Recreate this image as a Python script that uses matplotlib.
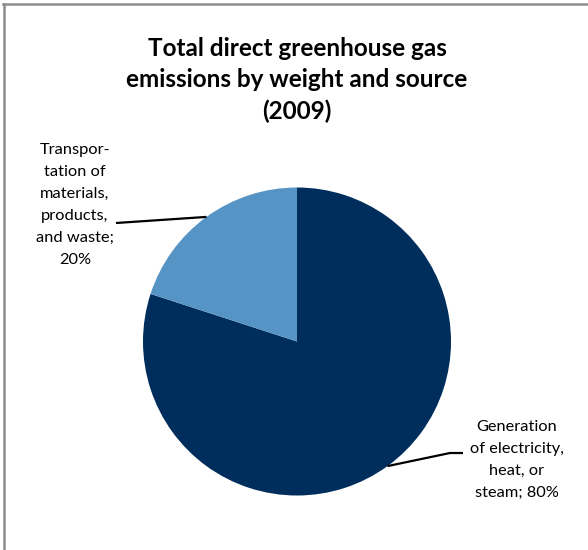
import numpy as np
import matplotlib.pyplot as plt
from matplotlib.lines import Line2D

plt.rcParams['font.family'] = ['Lato', 'DejaVu Sans']

title = 'Total direct greenhouse gas\nemissions by weight and source\n(2009)'
sources = ['Generation\nof electricity,\nheat, or\nsteam;', 'Transpor-\ntation of\nmaterials,\nproducts,\nand waste;']
shares = [80, 20]
joiners = [' ', '\n']
colors = ['#002E5C', '#5694C6']

W, H = 588, 550
fig = plt.figure(figsize=(W / 100, H / 100), dpi=100)
ax = fig.add_axes([0, 0, 1, 1])

cx, cy, r = 297, H - 341.5, 154
wedges, _ = ax.pie(shares, colors=colors, startangle=90, counterclock=False,
                   center=(cx, cy), radius=r, frame=False,
                   wedgeprops=dict(linewidth=0))
ax.set_xlim(0, W)
ax.set_ylim(0, H)
ax.set_aspect('equal')
ax.axis('off')

ax.text(297, H - 80, title, ha='center', va='center', fontsize=17.5,
        fontweight='bold', linespacing=1.42, color='black')

# label centre and the bend points of each leader line (pixel coords)
label_pos = [(517, H - 460), (75, H - 205)]
elbows = [[(450, H - 453), (463, H - 453)], [(116, H - 223)]]

for w, name, pct, sep, (lx, ly), elb in zip(wedges, sources, shares, joiners, label_pos, elbows):
    mid = np.deg2rad((w.theta1 + w.theta2) / 2)
    ex, ey = cx + r * np.cos(mid), cy + r * np.sin(mid)
    xs = [ex] + [p[0] for p in elb]
    ys = [ey] + [p[1] for p in elb]
    ax.plot(xs, ys, color='black', lw=1.6, solid_capstyle='butt')
    ax.text(lx, ly, f'{name}{sep}{pct}%', ha='center', va='center',
            fontsize=11.8, linespacing=1.74, color='black')

# chart frame (only top and left edges fall inside the image)
fig.add_artist(Line2D([3 / W, 1], [1 - 4 / H, 1 - 4 / H], color='#8C8C8C', lw=1.8))
fig.add_artist(Line2D([4 / W, 4 / W], [0, 1 - 4 / H], color='#8C8C8C', lw=1.8))

fig.savefig('out.png', dpi=100)
